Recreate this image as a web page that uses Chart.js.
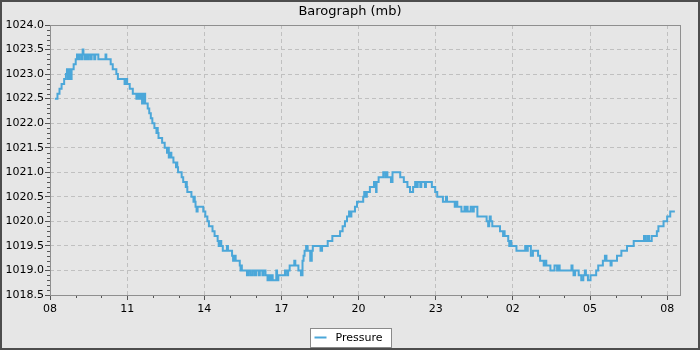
<!DOCTYPE html>
<html>
<head>
<meta charset="utf-8">
<script src="https://cdn.jsdelivr.net/npm/chart.js@4.4.0/dist/chart.umd.min.js"></script>
<style>
  html, body { margin: 0; padding: 0; background: #e6e6e6; }
</style>
</head>
<body>
<canvas id="baro" width="700" height="350"></canvas>
<script>
// hours after 08:00 where the reading changes, and the reading (mb)
const hours = [
  0.19, 0.29, 0.37, 0.45, 0.55, 0.62, 0.66, 0.70, 0.74, 0.78, 0.84, 0.92,
  1.00, 1.05, 1.12, 1.16, 1.24, 1.27, 1.30, 1.36, 1.40, 1.46, 1.50, 1.58,
  1.62, 1.72, 1.76, 1.88, 2.16, 2.19, 2.36, 2.44, 2.58, 2.64, 2.90, 2.96,
  3.00, 3.10, 3.22, 3.36, 3.40, 3.46, 3.52, 3.58, 3.64, 3.70, 3.80, 3.86,
  3.92, 3.98, 4.06, 4.14, 4.17, 4.19, 4.22, 4.36, 4.46, 4.55, 4.58, 4.62, 4.66, 4.72,
  4.80, 4.90, 4.93, 4.95, 4.98, 5.12, 5.18, 5.28, 5.30, 5.32, 5.34, 5.50, 5.58, 5.61, 5.63, 5.66, 5.70, 5.74,
  5.96, 6.04, 6.12, 6.18, 6.32, 6.40, 6.52, 6.56, 6.59, 6.66, 6.72, 6.88, 6.92, 7.08,
  7.12, 7.18, 7.22, 7.38, 7.41, 7.43, 7.46, 7.66, 7.72, 7.80, 7.88, 7.96, 8.02, 8.12,
  8.16, 8.26, 8.30, 8.38, 8.46, 8.52, 8.56, 8.60, 8.66, 8.80, 8.83, 8.88,
  9.14, 9.22, 9.26, 9.32, 9.50, 9.54, 9.66, 9.76, 9.82, 9.86, 9.90, 9.96,
  10.02, 10.12, 10.18, 10.22, 10.52, 10.58, 10.80, 10.98, 11.28, 11.38, 11.47, 11.55,
  11.63, 11.68, 11.72, 11.86, 11.94, 12.18, 12.22, 12.28, 12.32, 12.44, 12.60, 12.64,
  12.68, 12.70, 12.78, 12.96, 13.04, 13.08, 13.12, 13.26, 13.32, 13.62, 13.76, 13.90,
  14.00, 14.12, 14.20, 14.26, 14.30, 14.40, 14.44, 14.58, 14.62, 14.85, 14.98, 15.06,
  15.28, 15.40, 15.44, 15.74, 15.80, 15.84, 16.00, 16.12, 16.16, 16.20, 16.24, 16.36,
  16.44, 16.48, 16.62, 16.98, 17.04, 17.08, 17.10, 17.14, 17.20, 17.50, 17.62, 17.66, 17.68, 17.82, 17.86, 17.88,
  17.94, 18.14, 18.48, 18.52, 18.58, 18.70, 18.78, 18.98, 19.06, 19.20, 19.24, 19.30,
  19.46, 19.62, 19.72, 19.76, 19.82, 20.28, 20.32, 20.36, 20.42, 20.56, 20.66, 20.74,
  20.80, 20.84, 20.92, 21.02, 21.24, 21.32, 21.50, 21.58, 21.64, 21.80, 21.84, 22.05,
  22.22, 22.44, 22.70, 23.10, 23.16, 23.24, 23.30, 23.40, 23.60, 23.66, 23.86, 24.00,
  24.12, 24.30
];
const pressure = [
  1022.5, 1022.6, 1022.7, 1022.8, 1022.9, 1023.0, 1023.1, 1022.9, 1023.1, 1022.9, 1023.1, 1023.2,
  1023.3, 1023.4, 1023.3, 1023.4, 1023.3, 1023.5, 1023.4, 1023.3, 1023.4, 1023.3, 1023.4, 1023.3,
  1023.4, 1023.3, 1023.4, 1023.3, 1023.4, 1023.3, 1023.2, 1023.1, 1023.0, 1022.9, 1022.8, 1022.9,
  1022.8, 1022.7, 1022.6, 1022.5, 1022.6, 1022.5, 1022.6, 1022.4, 1022.6, 1022.4, 1022.3, 1022.2,
  1022.1, 1022.0, 1021.9, 1021.8, 1021.9, 1021.8, 1021.7, 1021.6, 1021.5, 1021.4, 1021.5, 1021.3, 1021.4, 1021.3,
  1021.2, 1021.1, 1021.2, 1021.1, 1021.0, 1020.9, 1020.8, 1020.7, 1020.8, 1020.7, 1020.6, 1020.5, 1020.4, 1020.5, 1020.4, 1020.3, 1020.2, 1020.3,
  1020.2, 1020.1, 1020.0, 1019.9, 1019.8, 1019.7, 1019.6, 1019.5, 1019.6, 1019.5, 1019.4, 1019.5, 1019.4, 1019.3,
  1019.2, 1019.3, 1019.2, 1019.1, 1019.0, 1019.1, 1019.0, 1018.9, 1019.0, 1018.9, 1019.0, 1018.9, 1019.0, 1018.9,
  1019.0, 1018.9, 1019.0, 1018.9, 1018.8, 1018.9, 1018.8, 1018.9, 1018.8, 1019.0, 1018.8, 1018.9,
  1019.0, 1018.9, 1019.0, 1019.1, 1019.2, 1019.1, 1019.0, 1018.9, 1019.2, 1019.3, 1019.4, 1019.5,
  1019.4, 1019.2, 1019.4, 1019.5, 1019.4, 1019.5, 1019.6, 1019.7, 1019.8, 1019.9, 1020.0, 1020.1,
  1020.2, 1020.1, 1020.2, 1020.3, 1020.4, 1020.5, 1020.6, 1020.5, 1020.6, 1020.7, 1020.8, 1020.7,
  1020.6, 1020.8, 1020.9, 1021.0, 1020.9, 1021.0, 1020.9, 1020.8, 1021.0, 1020.9, 1020.8, 1020.7,
  1020.6, 1020.7, 1020.8, 1020.7, 1020.8, 1020.7, 1020.8, 1020.7, 1020.8, 1020.7, 1020.6, 1020.5,
  1020.4, 1020.5, 1020.4, 1020.3, 1020.4, 1020.3, 1020.2, 1020.3, 1020.2, 1020.3, 1020.2, 1020.3,
  1020.2, 1020.3, 1020.1, 1020.0, 1019.9, 1020.0, 1020.1, 1020.0, 1019.9, 1019.8, 1019.7, 1019.8, 1019.7, 1019.6, 1019.5, 1019.6,
  1019.5, 1019.4, 1019.5, 1019.4, 1019.5, 1019.3, 1019.4, 1019.3, 1019.2, 1019.1, 1019.2, 1019.1,
  1019.0, 1019.1, 1019.0, 1019.1, 1019.0, 1019.1, 1019.0, 1018.9, 1019.0, 1018.9, 1018.8, 1018.9,
  1019.0, 1018.9, 1018.8, 1018.9, 1019.0, 1019.1, 1019.2, 1019.3, 1019.2, 1019.1, 1019.2, 1019.3,
  1019.4, 1019.5, 1019.6, 1019.7, 1019.6, 1019.7, 1019.6, 1019.7, 1019.8, 1019.9, 1020.0, 1020.1,
  1020.2, 1020.2
];
const start_hour = 8;
const x_range = [0, 24.5];
const y_range = [1018.5, 1024.0];

const FONT = "'DejaVu Sans', sans-serif";
const LINE_COLOR = "#4ba7d9";
const GRID_COLOR = "#c0c0c0";
const OUTLINE_COLOR = "#8f8f8f";
const CLEAR = "rgba(0,0,0,0)";

const is_major_hour = (v) => Number.isInteger(v) && v % 3 === 0;
const is_major_mb = (v) => Math.round(v * 10) % 5 === 0;

const hour_label = (v) => {
  if (!is_major_hour(v)) return "";
  return String((start_hour + v) % 24).padStart(2, "0");
};

const decor_plugin = {
  id: "decor",
  beforeDraw(chart) {
    const ctx = chart.ctx;
    ctx.save();
    ctx.fillStyle = "#e6e6e6";
    ctx.fillRect(0, 0, chart.width, chart.height);
    ctx.restore();
  },
  afterDraw(chart) {
    const { ctx, chartArea: a, scales } = chart;
    const l = Math.round(a.left), r = Math.round(a.right);
    const t = Math.round(a.top), b = Math.round(a.bottom);
    ctx.save();
    // minor ticks
    ctx.strokeStyle = "#555";
    ctx.lineWidth = 1;
    ctx.beginPath();
    for (let h = 1; h < x_range[1]; h++) {
      if (h % 3 === 0) continue;
      const x = Math.round(scales.x.getPixelForValue(h)) + 0.5;
      ctx.moveTo(x, b);
      ctx.lineTo(x, b + 3);
    }
    for (let i = 1; i < 55; i++) {
      if (i % 5 === 0) continue;
      const y = Math.round(scales.y.getPixelForValue(y_range[0] + i / 10)) + 0.5;
      ctx.moveTo(l - 3, y);
      ctx.lineTo(l, y);
    }
    ctx.stroke();
    // plot outline
    ctx.strokeStyle = OUTLINE_COLOR;
    ctx.strokeRect(l + 0.5, t + 0.5, r - l, b - t);
    // legend
    ctx.font = "11px " + FONT;
    const text = "Pressure";
    const tw = ctx.measureText(text).width;
    const bw = Math.round(4 + 12 + 9 + tw + 9);
    const bx = Math.round(chart.width / 2 - bw / 2) + 0.5;
    const by = 328.5;
    ctx.fillStyle = "#ffffff";
    ctx.fillRect(bx, by, bw, 19);
    ctx.strokeStyle = "#8a8a8a";
    ctx.strokeRect(bx, by, bw, 19);
    ctx.strokeStyle = LINE_COLOR;
    ctx.lineWidth = 2;
    ctx.beginPath();
    ctx.moveTo(bx + 4, 337.5);
    ctx.lineTo(bx + 16, 337.5);
    ctx.stroke();
    ctx.fillStyle = "#000";
    ctx.textBaseline = "middle";
    ctx.fillText(text, bx + 25, 338);
    // outer frame
    ctx.strokeStyle = "#4d4d4d";
    ctx.lineWidth = 2;
    ctx.strokeRect(1, 1, chart.width - 2, chart.height - 2);
    ctx.restore();
  },
};

new Chart(document.getElementById("baro"), {
  type: "line",
  data: {
    datasets: [
      {
        label: "Pressure",
        data: hours.map((h, i) => ({ x: h, y: pressure[i] })),
        borderColor: LINE_COLOR,
        backgroundColor: LINE_COLOR,
        borderWidth: 2,
        pointRadius: 0,
        stepped: true,
        fill: false,
      },
    ],
  },
  options: {
    responsive: false,
    animation: false,
    devicePixelRatio: 1,
    layout: { padding: { left: 0, right: 0, top: 0, bottom: 30 } },
    plugins: {
      legend: { display: false },
      tooltip: { enabled: false },
      title: {
        display: true,
        text: "Barograph (mb)",
        color: "#000",
        font: { family: FONT, size: 13, weight: "normal" },
        padding: { top: 4, bottom: 5.4 },
      },
    },
    scales: {
      x: {
        type: "linear",
        min: x_range[0],
        max: x_range[1],
        afterFit: (scale) => { scale.height = 25; },
        ticks: {
          stepSize: 1,
          includeBounds: false,
          autoSkip: false,
          maxRotation: 0,
          padding: 3,
          color: "#000",
          font: { family: FONT, size: 11 },
          callback: (v) => hour_label(v),
        },
        grid: {
          color: (c) => (c.tick && is_major_hour(c.tick.value) ? GRID_COLOR : CLEAR),
          tickColor: (c) => (c.tick && is_major_hour(c.tick.value) ? "#555" : CLEAR),
          tickLength: 5,
        },
        border: { display: false, dash: [4, 3] },
      },
      y: {
        min: y_range[0],
        max: y_range[1],
        afterFit: (scale) => { scale.width = 50; },
        ticks: {
          stepSize: 0.1,
          autoSkip: false,
          padding: 1,
          color: "#000",
          font: { family: FONT, size: 11 },
          callback: (v) => (is_major_mb(v) ? v.toFixed(1) : ""),
        },
        grid: {
          color: (c) => (c.tick && is_major_mb(c.tick.value) ? GRID_COLOR : CLEAR),
          tickColor: (c) => (c.tick && is_major_mb(c.tick.value) ? "#555" : CLEAR),
          tickLength: 5,
        },
        border: { display: false, dash: [4, 3] },
      },
      right_gap: {
        position: "right",
        afterFit: (scale) => { scale.width = 20; },
        grid: { display: false },
        ticks: { display: false },
        border: { display: false },
      },
    },
  },
  plugins: [decor_plugin],
});
</script>
</body>
</html>
